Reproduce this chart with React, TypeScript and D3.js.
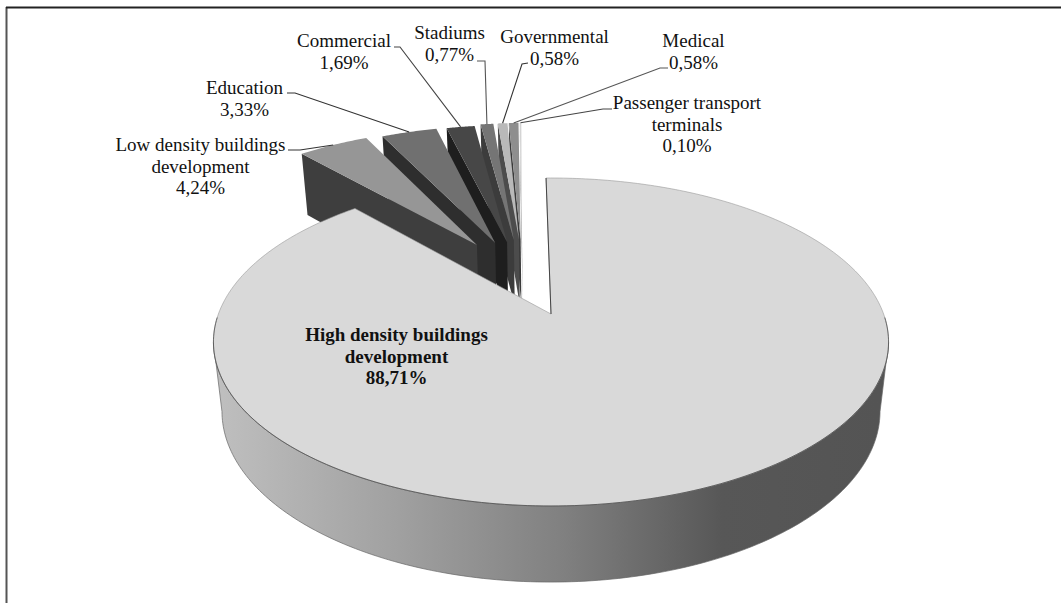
import React from "react";
import * as d3 from "d3";

const W = 1061;
const H = 603;

const categories = [
  "High density buildings development",
  "Low density buildings development",
  "Education",
  "Commercial",
  "Stadiums",
  "Governmental",
  "Medical",
  "Passenger transport terminals",
];
const shares = [88.71, 4.24, 3.33, 1.69, 0.77, 0.58, 0.58, 0.1];
const shareLabels = ["88,71%", "4,24%", "3,33%", "1,69%", "0,77%", "0,58%", "0,58%", "0,10%"];
const labelLines = [
  ["High density buildings", "development"],
  ["Low density buildings", "development"],
  ["Education"],
  ["Commercial"],
  ["Stadiums"],
  ["Governmental"],
  ["Medical"],
  ["Passenger transport", "terminals"],
];

// Styling and layout, kept apart from the values
const topFill = ["#d9d9d9", "#969696", "#707070", "#474747", "#757575", "#b9b9b9", "#8e8e8e", "#d4d4d4"];
const wallFill = ["none", "#3e3e3e", "#2e2e2e", "#1e1e1e", "#3c3c3c", "#4c4c4c", "#3a3a3a", "#8a8a8a"];
const explodeBearing = [0, -27.2, -20.6, -16.3, -13.5, -11.6, -11, -10.5];
const explodeDist = [0, 0.526, 0.516, 0.51, 0.52, 0.52, 0.52, 0.52];
const labelCx = [396.5, 200.5, 244.5, 344, 449.5, 554.5, 693.5, 687];
const labelY = [341, 151, 94, 47, 39, 43, 47, 109];
const leaderKnots: number[][][] = [
  [],
  [[288, 150], [300, 150]],
  [[287, 93], [295, 93]],
  [[394, 47], [400, 47]],
  [[477, 61], [485, 61]],
  [[528, 63], [522, 64]],
  [[668, 68], [660, 68]],
  [[612, 109], [603, 109]],
];
const leaderColor = ["", "#333", "#333", "#444", "#555", "#333", "#555", "#444"];

// Perspective pie planes: the rim of a unit circle under a homography
const CX = 551;
const topPlane = { y0: 314, a: 332.6, b: 159.2, k: 0.1707 };
const basePlane = { y0: 382.3, a: 324.3, b: 166, k: 0.169 };
type Plane = typeof topPlane;
type Off = { x: number; y: number };

const project = (p: Plane, u: number, v: number): [number, number] => {
  const w = 1 + p.k * v;
  return [CX + (p.a * u) / w, p.y0 - (p.b * v) / w];
};
const rim = (p: Plane, o: Off, t: number) =>
  project(p, o.x + Math.sin(t), o.y + Math.cos(t));
const sweep = (a: number, b: number, n = 160) =>
  d3.range(n + 1).map((i) => a + ((b - a) * i) / n);

const line = d3.line();
const rad = (deg: number) => (deg * Math.PI) / 180;

const arcs = d3
  .pie<number>()
  .sort(null)
  .startAngle(rad(-1))
  .endAngle(rad(359))(shares);

const offsets: Off[] = shares.map((_, i) => ({
  x: explodeDist[i] * Math.sin(rad(explodeBearing[i])),
  y: explodeDist[i] * Math.cos(rad(explodeBearing[i])),
}));

const topPath = (i: number) => {
  const a = arcs[i];
  const o = offsets[i];
  const pts = [
    project(topPlane, o.x, o.y),
    ...sweep(a.startAngle, a.endAngle, i === 0 ? 360 : 24).map((t) => rim(topPlane, o, t)),
  ];
  return line(pts) + "Z";
};
const wallPath = (i: number) => {
  const o = offsets[i];
  const t = arcs[i].startAngle;
  return (
    line([
      rim(topPlane, o, t),
      project(topPlane, o.x, o.y),
      project(basePlane, o.x, o.y),
      rim(basePlane, o, t),
    ]) + "Z"
  );
};
const sideStart = Math.acos(-topPlane.k);
const sideEnd = 2 * Math.PI - sideStart;
const none: Off = { x: 0, y: 0 };
const sidePath =
  line([
    ...sweep(sideStart, sideEnd).map((t) => rim(topPlane, none, t)),
    ...sweep(sideEnd, sideStart).map((t) => rim(basePlane, none, t)),
  ]) + "Z";
const frontRim = line(sweep(sideStart - 0.15, sideEnd + 0.15).map((t) => rim(topPlane, none, t)));
const startEdge = line([rim(topPlane, none, arcs[0].startAngle), project(topPlane, 0, 0)]);

const smallOrder = d3.range(shares.length - 1, 0, -1);

export default function App() {
  return (
    <svg
      width={W}
      height={H}
      style={{ position: "fixed", left: 0, top: 0, background: "#fff" }}
      fontFamily="'Liberation Serif', serif"
      fontSize={19}
      fill="#111"
    >
      <defs>
        <linearGradient id="side" gradientUnits="userSpaceOnUse" x1={222} x2={880} y1={0} y2={0}>
          <stop offset="0" stopColor="#bebebe" />
          <stop offset="0.27" stopColor="#a0a0a0" />
          <stop offset="0.52" stopColor="#808080" />
          <stop offset="0.76" stopColor="#575757" />
          <stop offset="1" stopColor="#545454" />
        </linearGradient>
      </defs>

      <path d={`M6.5 603V7`} fill="none" stroke="#555" strokeWidth={2} />
      <path d={`M6 7.5H${W}`} fill="none" stroke="#222" strokeWidth={2} />

      {smallOrder.map((i) => (
        <g key={categories[i]}>
          <path d={wallPath(i)} fill={wallFill[i]} />
          <path d={topPath(i)} fill={topFill[i]} />
        </g>
      ))}

      <path d={sidePath} fill="url(#side)" stroke="#666" strokeWidth={0.7} />
      <path d={topPath(0)} fill={topFill[0]} stroke="#999" strokeWidth={0.6} strokeLinejoin="round" />
      <path d={frontRim ?? ""} fill="none" stroke="#444" strokeWidth={0.7} />
      <path d={startEdge ?? ""} fill="none" stroke="#444" strokeWidth={1} />

      {smallOrder.map((i) => {
        const mid = (arcs[i].startAngle + arcs[i].endAngle) / 2;
        const pts = [...leaderKnots[i], rim(topPlane, offsets[i], mid)] as [number, number][];
        return (
          <path key={i} d={line(pts) ?? ""} fill="none" stroke={leaderColor[i]} strokeWidth={1.1} />
        );
      })}

      {categories.map((c, i) => {
        const rows = [...labelLines[i], shareLabels[i]];
        return (
          <text key={c} textAnchor="middle" fontWeight={i === 0 ? "bold" : "normal"}>
            {rows.map((r, j) => (
              <tspan key={j} x={labelCx[i]} y={labelY[i] + j * 21.7}>
                {r}
              </tspan>
            ))}
          </text>
        );
      })}
    </svg>
  );
}
